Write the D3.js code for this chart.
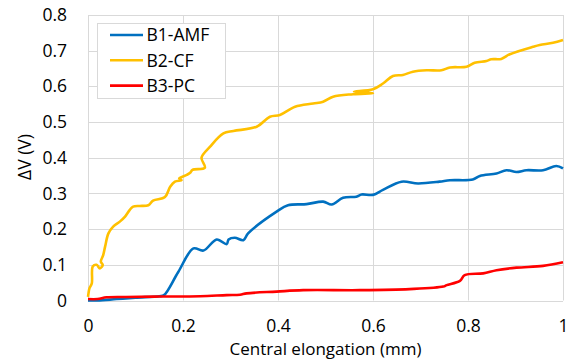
<!DOCTYPE html>
<html>
<head>
<meta charset="utf-8">
<script src="https://cdn.jsdelivr.net/npm/d3@7"></script>
<style>
  body { margin: 0; background: #fff; }
  text { font-family: "Open Sans", sans-serif; fill: #000; }
</style>
</head>
<body>
<div id="chart"></div>
<script>
// series values, [elongation (mm), dV (V)]
const b1Amf = [[0,0],[0.02,0],[0.06,0.004],[0.1,0.008],[0.15,0.012],[0.16,0.015],[0.19,0.08],[0.222,0.146],[0.243,0.14],
  [0.271,0.171],[0.292,0.158],[0.296,0.171],[0.309,0.176],[0.327,0.169],[0.337,0.188],[0.397,0.249],[0.421,0.267],
  [0.46,0.27],[0.495,0.277],[0.513,0.269],[0.537,0.288],[0.565,0.291],[0.576,0.297],[0.6,0.296],[0.621,0.31],
  [0.66,0.333],[0.695,0.328],[0.74,0.333],[0.762,0.337],[0.81,0.339],[0.825,0.349],[0.86,0.356],[0.881,0.365],
  [0.902,0.36],[0.923,0.365],[0.958,0.365],[0.986,0.377],[1,0.37]];
const b2Cf = [[0,0.01],[0.001,0.02],[0.003,0.034],[0.008,0.048],[0.01,0.095],[0.018,0.1],[0.025,0.09],[0.031,0.1],
  [0.027,0.109],[0.032,0.127],[0.036,0.151],[0.043,0.188],[0.053,0.207],[0.067,0.221],[0.078,0.235],[0.088,0.254],
  [0.095,0.263],[0.109,0.265],[0.127,0.267],[0.137,0.28],[0.162,0.29],[0.173,0.319],[0.183,0.333],[0.197,0.337],
  [0.192,0.342],[0.208,0.352],[0.215,0.358],[0.22,0.366],[0.246,0.372],[0.239,0.4],[0.257,0.431],[0.285,0.468],
  [0.306,0.475],[0.355,0.487],[0.383,0.515],[0.404,0.52],[0.436,0.543],[0.474,0.552],[0.495,0.557],[0.516,0.571],
  [0.558,0.578],[0.6,0.581],[0.56,0.585],[0.6,0.592],[0.621,0.608],[0.642,0.629],[0.663,0.632],[0.684,0.641],
  [0.713,0.645],[0.744,0.645],[0.762,0.653],[0.797,0.655],[0.814,0.666],[0.839,0.671],[0.849,0.676],[0.87,0.677],
  [0.888,0.69],[0.937,0.711],[0.951,0.716],[0.979,0.722],[1,0.73]];
const b3Pc = [[0,0.004],[0.02,0.004],[0.039,0.009],[0.08,0.01],[0.151,0.011],[0.236,0.012],[0.292,0.015],[0.32,0.016],
  [0.334,0.02],[0.397,0.025],[0.453,0.029],[0.572,0.029],[0.677,0.032],[0.748,0.039],[0.755,0.043],[0.783,0.055],
  [0.793,0.071],[0.832,0.076],[0.86,0.085],[0.902,0.092],[0.958,0.097],[1,0.107]];

const seriesNames = ['B1-AMF', 'B2-CF', 'B3-PC'];
const seriesColors = ['#0070C0', '#FFC000', '#FF0000'];
const xTicks = [0, 0.2, 0.4, 0.6, 0.8, 1];
const yTicks = [0, 0.1, 0.2, 0.3, 0.4, 0.5, 0.6, 0.7, 0.8];

const W = 574, H = 363;
const margin = {top: 15, right: 11, bottom: 62.5, left: 88};
const width = W - margin.left - margin.right,
  height = H - margin.top - margin.bottom;

const svg = d3.select('#chart').append('svg')
  .attr('width', W)
  .attr('height', H)
  .append('g')
  .attr('transform', 'translate(' + margin.left + ',' + margin.top + ')');

const x = d3.scaleLinear().domain([0, 1]).range([0, width]);
const y = d3.scaleLinear().domain([0, 0.8]).range([height, 0]);

// grid
svg.append('g')
  .selectAll('line')
  .data(yTicks)
  .enter().append('line')
  .attr('x1', 0).attr('x2', width)
  .attr('y1', d => Math.round(y(d)) + 0.5).attr('y2', d => Math.round(y(d)) + 0.5)
  .attr('stroke', '#d9d9d9');
svg.append('g')
  .selectAll('line')
  .data(xTicks)
  .enter().append('line')
  .attr('y1', 0).attr('y2', height)
  .attr('x1', d => Math.round(x(d)) + 0.5).attr('x2', d => Math.round(x(d)) + 0.5)
  .attr('stroke', '#d9d9d9');

// axes (labels only)
const xAxis = svg.append('g')
  .attr('transform', 'translate(0,' + height + ')')
  .call(d3.axisBottom(x).tickValues(xTicks).tickSize(0).tickPadding(19.5).tickFormat(d3.format('~g')));
const yAxis = svg.append('g')
  .call(d3.axisLeft(y).tickValues(yTicks).tickSize(0).tickPadding(21).tickFormat(d3.format('~g')));
[xAxis, yAxis].forEach(a => {
  a.select('.domain').remove();
  a.selectAll('text').style('font-size', '17.5px').attr('fill', '#000');
});

// lines
const line = d3.line()
  .x(d => x(d[0]))
  .y(d => y(d[1]))
  .curve(d3.curveCatmullRom.alpha(0.5));

[b1Amf, b2Cf, b3Pc].forEach((s, i) => {
  svg.append('path')
    .datum(s)
    .attr('fill', 'none')
    .attr('stroke', seriesColors[i])
    .attr('stroke-width', 2.6)
    .attr('stroke-linejoin', 'round')
    .attr('d', line);
});

// axis titles
svg.append('text')
  .attr('x', width / 2)
  .attr('y', height + 54.5)
  .attr('text-anchor', 'middle')
  .style('font-size', '17px')
  .text('Central elongation (mm)');

svg.append('text')
  .attr('transform', 'translate(' + (30.5 - margin.left) + ',' + (157 - margin.top) + ') rotate(-90)')
  .attr('text-anchor', 'middle')
  .style('font-size', '17.5px')
  .text('ΔV (V)');

// legend
const legend = svg.append('g').attr('transform', 'translate(' + (97.5 - margin.left) + ',' + (23.5 - margin.top) + ')');
legend.append('rect')
  .attr('width', 128).attr('height', 75)
  .attr('fill', '#fff')
  .attr('stroke', '#d9d9d9');
seriesNames.forEach((n, i) => {
  const ly = 11.5 + i * 25.3;
  legend.append('line')
    .attr('x1', 12.5).attr('x2', 45.5)
    .attr('y1', ly).attr('y2', ly)
    .attr('stroke', seriesColors[i])
    .attr('stroke-width', 2.6);
  legend.append('text')
    .attr('x', 49)
    .attr('y', ly + 6.3)
    .style('font-size', '17.5px')
    .text(n);
});
</script>
</body>
</html>
